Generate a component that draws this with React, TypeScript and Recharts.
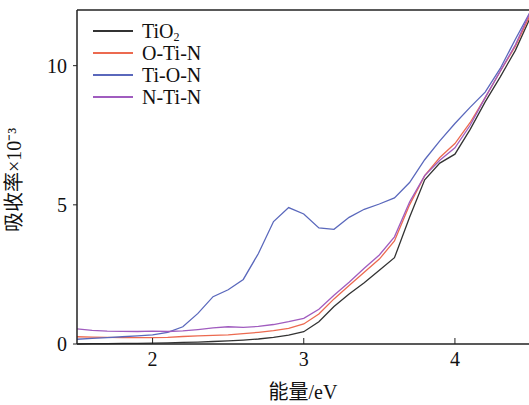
import React from "react";
import { LineChart, Line, XAxis, YAxis, ReferenceLine } from "recharts";

const energy = [
  1.5, 1.6, 1.7, 1.8, 1.9, 2.0, 2.1, 2.2, 2.3, 2.4, 2.5, 2.6, 2.7, 2.8, 2.9, 3.0,
  3.1, 3.2, 3.3, 3.4, 3.5, 3.6, 3.7, 3.8, 3.9, 4.0, 4.1, 4.2, 4.3, 4.4, 4.5,
];

const tio2 = [
  0.0, 0.01, 0.01, 0.02, 0.02, 0.03, 0.04, 0.06, 0.07, 0.09, 0.11, 0.14, 0.18,
  0.24, 0.32, 0.44, 0.8, 1.35, 1.8, 2.2, 2.65, 3.1, 4.55, 5.9, 6.5, 6.82, 7.7,
  8.7, 9.6, 10.55, 11.75,
];
const oTiN = [
  0.26, 0.25, 0.24, 0.23, 0.23, 0.23, 0.24, 0.27, 0.29, 0.31, 0.33, 0.37, 0.42,
  0.48, 0.56, 0.72, 1.08, 1.62, 2.1, 2.58, 3.05, 3.7, 5.0, 6.05, 6.7, 7.2,
  7.95, 8.85, 9.8, 10.7, 11.85,
];
const tiON = [
  0.17, 0.2, 0.23, 0.26, 0.29, 0.33, 0.42, 0.62, 1.1, 1.7, 1.95, 2.32, 3.25,
  4.4, 4.9, 4.67, 4.17, 4.12, 4.55, 4.84, 5.03, 5.25, 5.8, 6.62, 7.3, 7.92, 8.5,
  9.05, 9.9, 10.95, 11.95,
];
const nTiN = [
  0.54, 0.49, 0.46, 0.45, 0.45, 0.46, 0.45, 0.47, 0.52, 0.58, 0.62, 0.6, 0.63,
  0.7, 0.8, 0.92, 1.25, 1.75, 2.22, 2.72, 3.2, 3.85, 5.1, 6.05, 6.6, 7.05, 7.85,
  8.85, 9.8, 10.75, 11.95,
];

const xTicks = [2, 3, 4];
const yTicks = [0, 5, 10];

const series = [
  { key: "tio2", name: "TiO2", color: "#333333" },
  { key: "oTiN", name: "O-Ti-N", color: "#ec6a50" },
  { key: "tiON", name: "Ti-O-N", color: "#5a68bc" },
  { key: "nTiN", name: "N-Ti-N", color: "#a05cbf" },
];

const data = energy.map((e, i) => ({
  e,
  tio2: tio2[i],
  oTiN: oTiN[i],
  tiON: tiON[i],
  nTiN: nTiN[i],
}));

const FONT = "'Liberation Serif', 'Times New Roman', serif";
const CJK = "'Liberation Serif', 'Noto Sans CJK SC', serif";

function LegendBox() {
  return (
    <div
      style={{
        position: "absolute",
        left: 93,
        top: 20,
        fontFamily: FONT,
        fontSize: 20,
        color: "#111",
        lineHeight: "22px",
      }}
    >
      {series.map((s) => (
        <div key={s.key} style={{ display: "flex", alignItems: "center", height: 22 }}>
          <div
            style={{ width: 40, height: 0, borderTop: `2px solid ${s.color}`, marginRight: 9 }}
          />
          <span style={{ whiteSpace: "nowrap" }}>
            {s.name === "TiO2" ? (
              <>
                TiO
                <span style={{ fontSize: 12, lineHeight: "12px", position: "relative", top: 3 }}>2</span>
              </>
            ) : (
              s.name
            )}
          </span>
        </div>
      ))}
    </div>
  );
}

export default function App() {
  return (
    <div style={{ position: "absolute", left: 0, top: 0, width: 529, height: 405, background: "#fff" }}>
      <LineChart
        width={529}
        height={405}
        data={data}
        margin={{ top: 10, right: 0, bottom: 0, left: 0 }}
      >
        <XAxis
          dataKey="e"
          type="number"
          domain={[1.5, 4.49]}
          ticks={xTicks}
          allowDataOverflow
          height={61}
          tickSize={-6}
          tickMargin={14}
          axisLine={{ stroke: "#222", strokeWidth: 1.5 }}
          tickLine={{ stroke: "#222" }}
          tick={{ fill: "#111", fontSize: 20, fontFamily: FONT }}
          label={{
            value: "能量/eV",
            position: "insideBottom",
            offset: 6,
            fill: "#111",
            fontSize: 20,
            fontFamily: CJK,
          }}
        />
        <YAxis
          type="number"
          domain={[0, 12]}
          ticks={yTicks}
          width={77}
          tickSize={4}
          tickMargin={6}
          axisLine={{ stroke: "#222", strokeWidth: 1.5 }}
          tickLine={{ stroke: "#222" }}
          tick={{ fill: "#111", fontSize: 20, fontFamily: FONT }}
          label={{
            value: "吸收率×10⁻³",
            angle: -90,
            position: "insideLeft",
            offset: 14,
            dy: 55,
            fill: "#111",
            fontSize: 20,
            fontFamily: CJK,
          }}
        />
        <ReferenceLine y={12} stroke="#222" strokeWidth={1.5} />
        {series.map((s) => (
          <Line
            key={s.key}
            dataKey={s.key}
            name={s.name}
            stroke={s.color}
            strokeWidth={1.3}
            dot={false}
            type="linear"
            isAnimationActive={false}
          />
        ))}
      </LineChart>
      <LegendBox />
    </div>
  );
}
